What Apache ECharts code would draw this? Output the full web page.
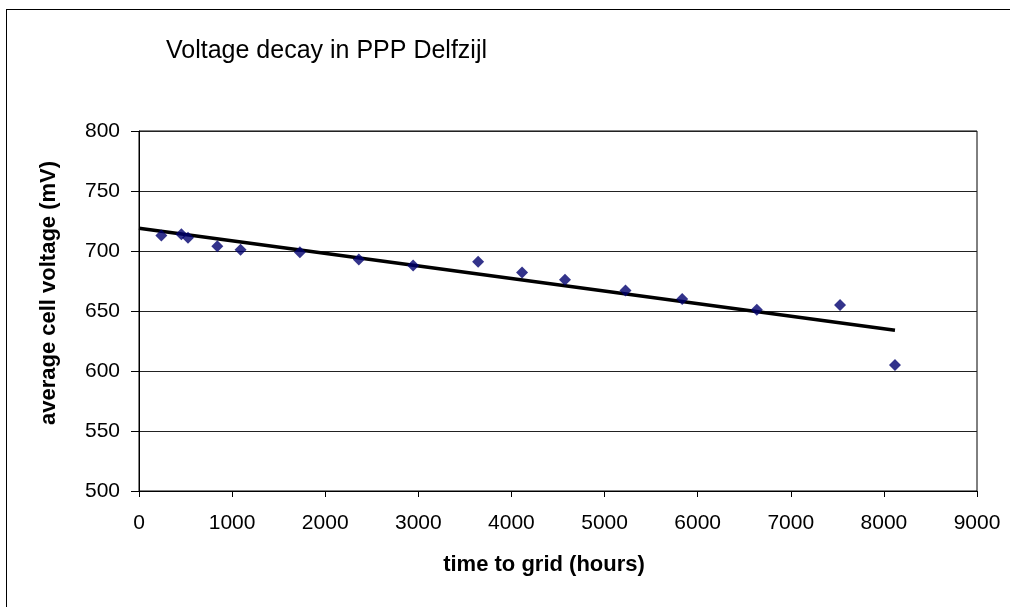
<!DOCTYPE html>
<html>
<head>
<meta charset="utf-8">
<script src="https://cdn.jsdelivr.net/npm/echarts@6/dist/echarts.min.js"></script>
<style>
  html, body { margin: 0; padding: 0; background: #fff; }
  #chart { position: absolute; left: 0; top: 0; width: 1010px; height: 607px; }
  #frame { position: absolute; left: 6px; top: 9px; width: 1100px; height: 700px;
           border-left: 1px solid #000; border-top: 1px solid #000; pointer-events: none; }
</style>
</head>
<body>
<div id="chart"></div>
<div id="frame"></div>
<script>
// measured points (hours, mV)
const hours = [240, 455, 526, 841, 1091, 1728, 2361, 2944, 3642, 4114, 4575, 5225, 5834, 6635, 7529, 8119]
const voltage = [713, 714, 711, 704, 701, 699, 693, 688, 691, 682, 676, 667, 660, 651, 655, 605]
// linear trend line end points
const trendHours = [0, 8119]
const trendVoltage = [719, 634]

const font = 'Liberation Sans, Arial, sans-serif'

const chart = echarts.init(document.getElementById('chart'))
const option = {
  animation: false,
  title: {
    text: 'Voltage decay in PPP Delfzijl',
    left: 161,
    top: 34,
    textStyle: { fontFamily: font, fontSize: 25, fontWeight: 'normal', color: '#000' }
  },
  grid: {
    left: 139,
    right: 33,
    top: 131,
    bottom: 116,
    show: true,
    borderColor: '#000',
    borderWidth: 1
  },
  xAxis: {
    type: 'value',
    min: 0,
    max: 9000,
    interval: 1000,
    name: 'time to grid (hours)',
    nameLocation: 'middle',
    nameGap: 63,
    nameTextStyle: { fontFamily: font, fontSize: 22, fontWeight: 'bold', color: '#000', padding: [0, 28, 0, 0] },
    axisLine: { show: true, lineStyle: { color: '#000', width: 1 } },
    axisTick: { show: true, inside: false, length: 6, lineStyle: { color: '#000' } },
    axisLabel: { margin: 22, fontFamily: font, fontSize: 21, color: '#000', formatter: v => String(v) },
    splitLine: { show: false }
  },
  yAxis: {
    type: 'value',
    min: 500,
    max: 800,
    interval: 50,
    name: 'average cell voltage (mV)',
    nameLocation: 'middle',
    nameGap: 79,
    nameTextStyle: { fontFamily: font, fontSize: 22, fontWeight: 'bold', color: '#000', padding: [0, 0, 0, 36] },
    axisLine: { show: true, lineStyle: { color: '#000', width: 1 } },
    axisTick: { show: true, inside: false, length: 8, lineStyle: { color: '#000' } },
    axisLabel: { margin: 19, fontFamily: font, fontSize: 21, color: '#000' },
    splitLine: { show: true, lineStyle: { color: '#222', width: 1 } }
  },
  series: [
    {
      type: 'line',
      data: trendHours.map((h, i) => [h, trendVoltage[i]]),
      showSymbol: false,
      lineStyle: { color: '#000', width: 3.5 },
      z: 2
    },
    {
      type: 'scatter',
      data: hours.map((h, i) => [h, voltage[i]]),
      symbol: 'diamond',
      symbolSize: 12,
      itemStyle: { color: '#00006e' },
      z: 3
    }
  ]
}
chart.setOption(option)
</script>
</body>
</html>
